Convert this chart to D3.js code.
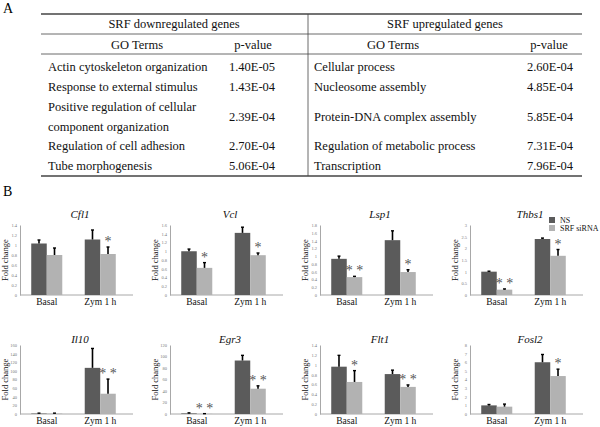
<!DOCTYPE html>
<html>
<head>
<meta charset="utf-8">
<script src="https://cdn.jsdelivr.net/npm/d3@7"></script>
<style>
  body { margin: 0; background: #fff; }
</style>
</head>
<body>
<svg id="chart" width="600" height="427"></svg>
<script>
// ---- table data (panel A) ----
const downTerms = ["Actin cytoskeleton organization", "Response to external stimulus",
    "Positive regulation of cellular\ncomponent organization", "Regulation of cell adhesion", "Tube morphogenesis"];
const downP = ["1.40E-05", "1.43E-04", "2.39E-04", "2.70E-04", "5.06E-04"];
const upTerms = ["Cellular process", "Nucleosome assembly", "Protein-DNA complex assembly",
    "Regulation of metabolic process", "Transcription"];
const upP = ["2.60E-04", "4.85E-04", "5.85E-04", "7.31E-04", "7.96E-04"];

// ---- bar chart data (panel B) ----
const genes = ["Cfl1", "Vcl", "Lsp1", "Thbs1", "Il10", "Egr3", "Flt1", "Fosl2"];
const groups = ["Basal", "Zym 1 h"];
const series = ["NS", "SRF siRNA"];
const nsMean = [[1.03, 1.11], [1.0, 1.42], [0.93, 1.41], [1.0, 2.4], [1, 107], [1, 93], [0.96, 0.81], [1.0, 6.0]];
const nsErr  = [[0.07, 0.19], [0.05, 0.13], [0.07, 0.24], [0.02, 0.04], [1, 45], [1, 9], [0.23, 0.08], [0.1, 0.9]];
const srfMean = [[0.80, 0.82], [0.62, 0.91], [0.46, 0.59], [0.23, 1.68], [1, 47], [0.3, 44], [0.65, 0.55], [0.85, 4.4]];
const srfErr  = [[0.14, 0.14], [0.12, 0.05], [0.02, 0.06], [0.03, 0.27], [1, 34], [0.3, 5], [0.23, 0.04], [0.3, 0.8]];
const stars = [["", "*"], ["*", "*"], ["**", "*"], ["**", "*"], ["", "**"], ["**", "**"], ["*", "**"], ["", "*"]];
const yMax = [1.4, 1.6, 1.8, 3, 160, 120, 1.4, 8];
const yStep = [0.2, 0.2, 0.2, 0.5, 20, 20, 0.2, 1];

const FONT = "'Times New Roman', 'Liberation Serif', 'DejaVu Serif', serif";
const colors = { "NS": "#5b5b5b", "SRF siRNA": "#b2b2b2" };
const svg = d3.select("#chart");

// panel labels
svg.append("text").attr("x", 3).attr("y", 13).attr("font-size", 14).text("A");
svg.append("text").attr("x", 3).attr("y", 196).attr("font-size", 14).text("B");

// ---- table ----
const tbl = svg.append("g").attr("font-size", 12.5).attr("fill", "#111");
const tL = 41, tR = 582, tMid = 308;
const hline = (y, w) => tbl.append("line").attr("x1", tL).attr("x2", tR).attr("y1", y).attr("y2", y)
    .attr("stroke", "#444").attr("stroke-width", w);
hline(14, 1.4); hline(34, 0.8); hline(54, 0.8); hline(176, 1.4);
tbl.append("line").attr("x1", tMid).attr("x2", tMid).attr("y1", 14).attr("y2", 176)
    .attr("stroke", "#444").attr("stroke-width", 0.8);

const ctext = (x, y, s, anchor) => tbl.append("text").attr("x", x).attr("y", y).attr("dy", "0.35em")
    .attr("text-anchor", anchor || "middle").text(s);
ctext(174, 24, "SRF downregulated genes");
ctext(445, 24, "SRF upregulated genes");
ctext(137, 45, "GO Terms"); ctext(253, 45, "p-value");
ctext(393, 45, "GO Terms"); ctext(549, 45, "p-value");

// row layout: lines per row
const rowLines = downTerms.map((t, i) => Math.max(t.split("\n").length, upTerms[i].split("\n").length));
let yCursor = 57;
rowLines.forEach((n, i) => {
    const h = n * 20 - (n > 1 ? 1 : 0);
    const mid = yCursor + h / 2;
    const dl = downTerms[i].split("\n");
    dl.forEach((s, k) => ctext(48, mid - (dl.length - 1) * 10 + k * 20, s, "start"));
    ctext(252, mid, downP[i]);
    ctext(314, mid, upTerms[i], "start");
    ctext(550, mid, upP[i]);
    yCursor += h;
});

// ---- bar panels ----
genes.forEach((gene, i) => {
    const px = (i % 4) * 150;
    const row = Math.floor(i / 4);
    const top = row ? 345 : 225, bottom = row ? 414 : 295;
    const g = svg.append("g");

    const x = d3.scaleBand().domain(groups).range([px + 20, px + 127]).paddingInner(0.42).paddingOuter(0.21);
    const xs = d3.scaleBand().domain(series).range([0, x.bandwidth()]);
    const y = d3.scaleLinear().domain([0, yMax[i]]).range([bottom, top]);

    // y axis
    const ticks = d3.range(0, yMax[i] + yStep[i] / 2, yStep[i]).map(v => +v.toFixed(2));
    const ya = g.append("g").attr("transform", `translate(${px + 20},0)`)
        .call(d3.axisLeft(y).tickValues(ticks).tickSize(0).tickPadding(3).tickFormat(d => String(d)));
    ya.attr("font-size", 4.5);
    ya.select(".domain").attr("stroke", "#a8a8a8");
    ya.selectAll("text").attr("fill", "#777");

    // x axis
    const xa = g.append("g").attr("transform", `translate(0,${bottom})`)
        .call(d3.axisBottom(x).tickSize(0).tickPadding(3).tickSizeOuter(0));
    xa.attr("font-size", 9.5);
    xa.select(".domain").attr("d", `M${px + 20},0H${px + 133}`).attr("stroke", "#a8a8a8");
    xa.selectAll("text").attr("fill", "#111");

    // y label
    g.append("text").attr("transform", `translate(${px + 8},${(top + bottom) / 2}) rotate(-90)`)
        .attr("text-anchor", "middle").attr("font-size", 8.5).attr("fill", "#111").text("Fold change");

    // title
    g.append("text").attr("x", px + 80).attr("y", row ? 343 : 218).attr("text-anchor", "middle")
        .attr("font-size", 11).attr("font-style", "italic").attr("fill", "#111").text(gene);

    const recs = [];
    groups.forEach((grp, j) => {
        recs.push({ grp, s: "NS", v: nsMean[i][j], e: nsErr[i][j], star: "" });
        recs.push({ grp, s: "SRF siRNA", v: srfMean[i][j], e: srfErr[i][j], star: stars[i][j] });
    });

    g.selectAll("rect.bar").data(recs).join("rect")
        .attr("x", d => x(d.grp) + xs(d.s))
        .attr("y", d => y(d.v))
        .attr("width", xs.bandwidth())
        .attr("height", d => bottom - y(d.v))
        .attr("fill", d => colors[d.s]);

    // error bars (upper only)
    const cx = d => x(d.grp) + xs(d.s) + xs.bandwidth() / 2;
    g.selectAll("line.err").data(recs).join("line")
        .attr("x1", cx).attr("x2", cx)
        .attr("y1", d => y(d.v)).attr("y2", d => y(d.v + d.e))
        .attr("stroke", "#000").attr("stroke-width", 1.6);
    g.selectAll("line.cap").data(recs).join("line")
        .attr("x1", d => cx(d) - 1.5).attr("x2", d => cx(d) + 1.5)
        .attr("y1", d => y(d.v + d.e)).attr("y2", d => y(d.v + d.e))
        .attr("stroke", "#000").attr("stroke-width", 1.4);

    // significance stars
    g.selectAll("text.star").data(recs.filter(d => d.star)).join("text")
        .attr("x", cx).attr("y", d => y(d.v + d.e) - 1)
        .attr("text-anchor", "middle").attr("font-size", 14).attr("fill", "#555")
        .text(d => d.star.split("").join(" "));
});

// legend (in Thbs1 panel)
const leg = svg.append("g");
series.forEach((s, k) => {
    leg.append("rect").attr("x", 549).attr("y", 217 + k * 8).attr("width", 6).attr("height", 6).attr("fill", colors[s]);
    leg.append("text").attr("x", 560).attr("y", 220 + k * 8).attr("dy", "0.35em")
        .attr("font-size", 8).attr("fill", "#111").text(s);
});

// serif everywhere, as in the figure
svg.selectAll("g").attr("font-family", FONT);
svg.selectAll("text").style("font-family", FONT);
</script>
</body>
</html>
